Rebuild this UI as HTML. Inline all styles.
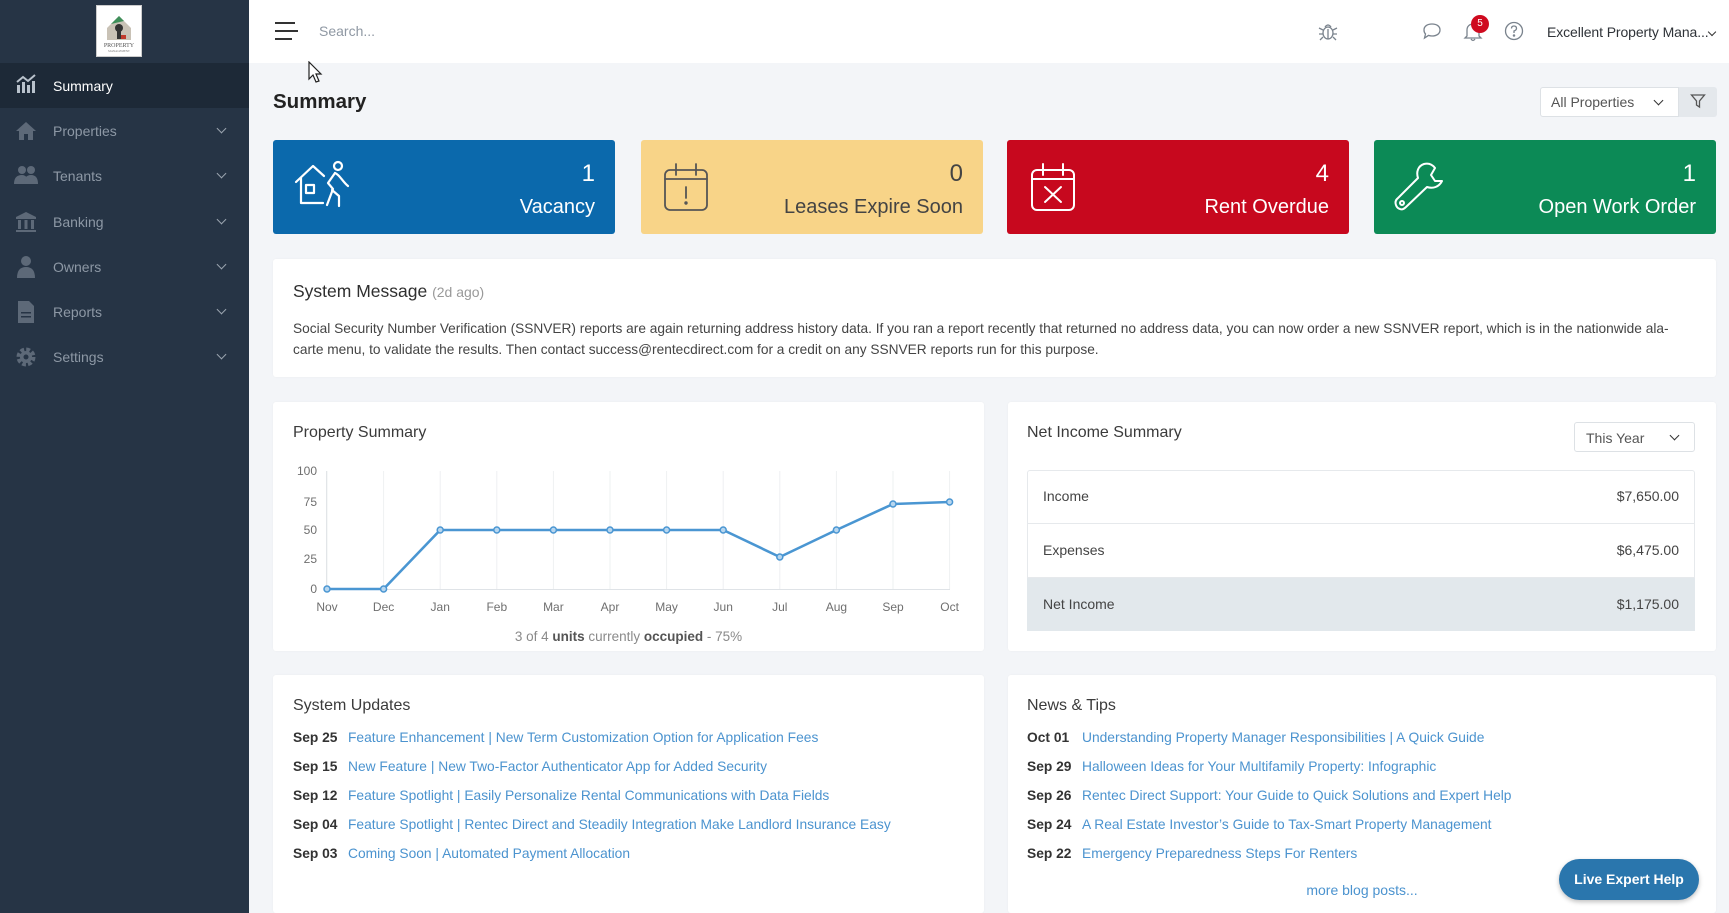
<!DOCTYPE html>
<html style="width:1729px;height:913px;overflow:hidden"><head><meta charset="utf-8"><style>
*{margin:0;padding:0;box-sizing:border-box}
body{width:1729px;height:913px;overflow:hidden;background:#f3f5f8;font-family:"Liberation Sans",Arial,sans-serif;position:relative;color:#333}
.a{position:absolute}
.side{left:0;top:0;width:249px;height:913px;background:#263445}
.logo{left:96px;top:5px;width:46px;height:52px;background:#fff;border:1px solid #ccc}
.act{left:0;top:63px;width:249px;height:45px;background:#1d2937}
.mi{left:53px;font-size:14px;color:#8d98a5;line-height:18px}
.chev{left:218px;width:7px;height:7px;border-right:1.6px solid #9aa4af;border-bottom:1.6px solid #9aa4af;transform:rotate(45deg)}
.top{left:249px;top:0;width:1480px;height:63px;background:#fff}
.card{border-radius:3px;color:#fff}
.num{right:20px;font-size:24px;line-height:28px}
.lbl{right:20px;font-size:20px;line-height:24px;white-space:nowrap}
.panel{background:#fff;border-radius:3px;box-shadow:0 0 2px rgba(0,0,0,.04)}
.ttl{font-size:16px;color:#3b3b3b;line-height:20px}
.row{font-size:13.8px;line-height:18px;white-space:nowrap}
.row b{color:#333;display:inline-block;width:55px}
.row span{color:#4b93cf}
.nr{left:1027px;width:668px;height:54px;border-top:1px solid #e6e9ec;font-size:14px;color:#444}
.nr .l{position:absolute;left:16px;top:18px}
.nr .r{position:absolute;right:16px;top:18px}
</style></head><body>

<!-- sidebar -->
<div class="a side"></div>
<div class="a logo">
<svg width="44" height="50" viewBox="0 0 44 50"><path d="M10 22 L22 10 L34 22 V34 H10Z" fill="#c9c2b6"/><path d="M14 18 L22 10 L27 15" fill="#3f8f5a"/><circle cx="22" cy="22" r="4" fill="#333"/><rect x="20" y="25" width="4" height="8" fill="#333"/><rect x="24" y="29" width="5" height="4" fill="#c0392b"/><text x="22" y="41" font-size="6" text-anchor="middle" fill="#555" font-family="Liberation Serif">PROPERTY</text><text x="22" y="46" font-size="3" text-anchor="middle" fill="#777" font-family="Liberation Serif">MANAGEMENT</text></svg>
</div>
<div class="a act"></div>
<svg class="a" style="left:14px;top:72px" width="24" height="24" viewBox="0 0 24 24"><g fill="#b9c2cc"><rect x="3" y="13" width="3" height="8"/><rect x="8" y="10" width="3" height="11"/><rect x="13" y="13" width="3" height="8"/><rect x="18" y="9" width="3" height="12"/></g><path d="M3 10 L9 5 L14 9 L21 3" stroke="#b9c2cc" stroke-width="2" fill="none"/></svg>
<div class="a mi" style="top:77px;color:#fff">Summary</div>

<svg class="a" style="left:14px;top:119px" width="24" height="24" viewBox="0 0 24 24"><path d="M2 12 L12 3 L22 12 H19 V21 H14 V15 H10 V21 H5 V12Z" fill="#5d6978"/></svg>
<div class="a mi" style="top:122px">Properties</div><div class="a chev" style="top:125px"></div>

<svg class="a" style="left:13px;top:164px" width="26" height="24" viewBox="0 0 26 24"><g fill="#5d6978"><circle cx="9" cy="6" r="4"/><circle cx="18" cy="6" r="4"/><path d="M1 20 Q1 11 9 11 Q15 11 15 20Z"/><path d="M11 20 Q11 11 18 11 Q25 11 25 20Z"/></g></svg>
<div class="a mi" style="top:167px">Tenants</div><div class="a chev" style="top:170px"></div>

<svg class="a" style="left:14px;top:210px" width="24" height="24" viewBox="0 0 24 24"><g fill="#5d6978"><path d="M2 7 L12 2 L22 7 V9 H2Z"/><rect x="4" y="10" width="3" height="9"/><rect x="10.5" y="10" width="3" height="9"/><rect x="17" y="10" width="3" height="9"/><rect x="2" y="20" width="20" height="2"/></g></svg>
<div class="a mi" style="top:213px">Banking</div><div class="a chev" style="top:216px"></div>

<svg class="a" style="left:14px;top:255px" width="24" height="24" viewBox="0 0 24 24"><g fill="#5d6978"><circle cx="12" cy="6" r="5"/><path d="M3 23 Q3 12 12 12 Q21 12 21 23Z"/></g></svg>
<div class="a mi" style="top:258px">Owners</div><div class="a chev" style="top:261px"></div>

<svg class="a" style="left:15px;top:300px" width="22" height="24" viewBox="0 0 22 24"><path d="M3 1 H14 L19 6 V23 H3Z" fill="#5d6978"/><g fill="#263445"><rect x="6" y="12" width="10" height="1.5"/><rect x="6" y="16" width="10" height="1.5"/></g></svg>
<div class="a mi" style="top:303px">Reports</div><div class="a chev" style="top:306px"></div>

<svg class="a" style="left:14px;top:345px" width="24" height="24" viewBox="0 0 24 24"><circle cx="12" cy="12" r="7" fill="none" stroke="#5d6978" stroke-width="5" stroke-dasharray="3.5 2"/><circle cx="12" cy="12" r="6" fill="#5d6978"/><circle cx="12" cy="12" r="2.5" fill="#263445"/></svg>
<div class="a mi" style="top:348px">Settings</div><div class="a chev" style="top:351px"></div>

<!-- top bar -->
<div class="a top"></div>
<div class="a" style="left:275px;top:22px;width:20px;height:2.4px;background:#333"></div>
<div class="a" style="left:275px;top:30px;width:23px;height:2.4px;background:#333"></div>
<div class="a" style="left:275px;top:38px;width:17px;height:2.4px;background:#333"></div>
<div class="a" style="left:319px;top:23px;font-size:14px;color:#8f98a3">Search...</div>
<svg class="a" style="left:308px;top:61px" width="16" height="24" viewBox="0 0 16 24"><path d="M1 1 V18 L5 14 L8 21 L11 20 L8 13 L13 13Z" fill="#fff" stroke="#222" stroke-width="1.2"/></svg>
<svg class="a" style="left:1318px;top:21px" width="20" height="20" viewBox="0 0 20 20" fill="none" stroke="#7a838d" stroke-width="1.3"><ellipse cx="10" cy="12" rx="5" ry="6"/><path d="M7 6 Q10 2 13 6"/><path d="M5 9 L1 7 M5 13 H1 M5 16 L2 19 M15 9 L19 7 M15 13 H19 M15 16 L18 19 M10 8 V18"/></svg>
<svg class="a" style="left:1422px;top:22px" width="20" height="18" viewBox="0 0 20 18" fill="none" stroke="#7a838d" stroke-width="1.3"><path d="M10 2 C15 2 18 4.5 18 8 C18 11.5 15 14 10 14 C8.5 14 7.5 13.8 6.5 13.4 L2.5 16 L3.5 12 C2.5 11 2 9.5 2 8 C2 4.5 5 2 10 2Z"/></svg>
<svg class="a" style="left:1463px;top:21px" width="20" height="21" viewBox="0 0 20 21" fill="none" stroke="#7a838d" stroke-width="1.3"><path d="M4 15 V9 C4 5.5 6.5 3 10 3 C13.5 3 16 5.5 16 9 V15 L18 17 H2Z"/><path d="M8 18 Q10 21 12 18"/></svg>
<div class="a" style="left:1471px;top:15px;width:18px;height:18px;border-radius:50%;background:#cf0a1f;color:#fff;font-size:10px;line-height:18px;text-align:center">5</div>
<svg class="a" style="left:1504px;top:21px" width="20" height="20" viewBox="0 0 20 20" fill="none" stroke="#7a838d" stroke-width="1.3"><circle cx="10" cy="10" r="8.5"/><path d="M7.5 7.5 Q7.5 5 10 5 Q12.5 5 12.5 7.5 Q12.5 9 10 10 V12"/><circle cx="10" cy="14.5" r=".6" fill="#7a838d"/></svg>
<div class="a" style="left:1547px;top:24px;font-size:14px;color:#2f3338;white-space:nowrap;letter-spacing:-0.1px">Excellent Property Mana...</div>
<div class="a" style="left:1709px;top:29px;width:6px;height:6px;border-right:1.6px solid #333;border-bottom:1.6px solid #333;transform:rotate(45deg)"></div>

<!-- title & filter -->
<div class="a" style="left:273px;top:90px;font-size:20.5px;font-weight:bold;color:#222">Summary</div>
<div class="a" style="left:1540px;top:87px;width:139px;height:30px;background:#fff;border:1px solid #dde1e5;border-radius:3px 0 0 3px"></div>
<div class="a" style="left:1551px;top:94px;font-size:14px;color:#555">All Properties</div>
<div class="a" style="left:1655px;top:97px;width:7px;height:7px;border-right:1.7px solid #333;border-bottom:1.7px solid #333;transform:rotate(45deg)"></div>
<div class="a" style="left:1679px;top:87px;width:38px;height:30px;background:#e4e8ec;border-radius:0 3px 3px 0"></div>
<svg class="a" style="left:1690px;top:93px" width="16" height="16" viewBox="0 0 16 16"><path d="M1.5 2 H14.5 L9.5 8 V14 L6.5 12 V8Z" fill="none" stroke="#555" stroke-width="1.3"/></svg>

<!-- cards -->
<div class="a card" style="left:273px;top:140px;width:342px;height:94px;background:#0b69ac">
<svg class="a" style="left:20px;top:18px" width="64" height="56" viewBox="0 0 64 56" fill="none" stroke="#fff" stroke-width="2.2" stroke-linecap="round" stroke-linejoin="round"><path d="M3 24 L20 8 L31 18"/><path d="M8 20 V45 H30"/><rect x="13" y="27" width="8" height="8"/><circle cx="45" cy="8" r="4"/><path d="M42 15 L35 25 L40 31 L34 47"/><path d="M42 15 C47 17 49 23 55 28"/><path d="M39 32 L46 38 L46 48"/></svg>
<div class="a num" style="top:20px">1</div><div class="a lbl" style="top:55px">Vacancy</div></div>

<div class="a card" style="left:641px;top:140px;width:342px;height:94px;background:#f8d488;color:#444">
<svg class="a" style="left:22px;top:22px" width="46" height="50" viewBox="0 0 46 50" fill="none" stroke="#555" stroke-width="1.8" stroke-linecap="round"><rect x="2" y="8" width="42" height="40" rx="5"/><path d="M2 17 H44 M13 2 V13 M33 2 V13 M23 25 V36"/><circle cx="23" cy="41" r=".8" fill="#555"/></svg>
<div class="a num" style="top:20px">0</div><div class="a lbl" style="top:55px">Leases Expire Soon</div></div>

<div class="a card" style="left:1007px;top:140px;width:342px;height:94px;background:#c7081e">
<svg class="a" style="left:23px;top:22px" width="46" height="50" viewBox="0 0 46 50" fill="none" stroke="#fff" stroke-width="2" stroke-linecap="round"><rect x="2" y="8" width="42" height="40" rx="5"/><path d="M2 17 H44 M13 2 V13 M33 2 V13 M15 25 L31 40 M31 25 L15 40"/></svg>
<div class="a num" style="top:20px">4</div><div class="a lbl" style="top:55px">Rent Overdue</div></div>

<div class="a card" style="left:1374px;top:140px;width:342px;height:94px;background:#0c8a56">
<svg class="a" style="left:18px;top:20px" width="54" height="54" viewBox="0 0 54 54" fill="none" stroke="#fff" stroke-width="2" stroke-linejoin="round"><path d="M32 4 C26 6 24 12 26 18 L5 39 C2 42 4 48 8 49 C10 50 12 49 14 47 L35 27 C41 29 47 27 50 21 L43 21 L39 15 L43 8 C40 4 36 3 32 4Z"/><circle cx="10" cy="43" r="2"/></svg>
<div class="a num" style="top:20px">1</div><div class="a lbl" style="top:55px">Open Work Order</div></div>

<!-- system message -->
<div class="a panel" style="left:273px;top:259px;width:1443px;height:118px"></div>
<div class="a" style="left:293px;top:281px;font-size:17.5px;color:#2f2f2f">System Message <span style="font-size:14px;color:#999">(2d ago)</span></div>
<div class="a" style="left:293px;top:318px;font-size:13.7px;line-height:21px;color:#444;white-space:nowrap">Social Security Number Verification (SSNVER) reports are again returning address history data. If you ran a report recently that returned no address data, you can now order a new SSNVER report, which is in the nationwide ala-<br>carte menu, to validate the results. Then contact success@rentecdirect.com for a credit on any SSNVER reports run for this purpose.</div>

<!-- property summary -->
<div class="a panel" style="left:273px;top:402px;width:711px;height:249px"></div>
<div class="a ttl" style="left:293px;top:423px">Property Summary</div>
<svg class="a" style="left:0;top:0" width="1000" height="660" font-family="Liberation Sans, Arial, sans-serif">
<g stroke="#eef0f2" stroke-width="1">
<line x1="327" y1="471" x2="327" y2="589"/><line x1="383.6" y1="471" x2="383.6" y2="589"/><line x1="440.2" y1="471" x2="440.2" y2="589"/><line x1="496.8" y1="471" x2="496.8" y2="589"/><line x1="553.4" y1="471" x2="553.4" y2="589"/><line x1="610" y1="471" x2="610" y2="589"/><line x1="666.6" y1="471" x2="666.6" y2="589"/><line x1="723.2" y1="471" x2="723.2" y2="589"/><line x1="779.8" y1="471" x2="779.8" y2="589"/><line x1="836.4" y1="471" x2="836.4" y2="589"/><line x1="893" y1="471" x2="893" y2="589"/><line x1="949.6" y1="471" x2="949.6" y2="589"/>
</g>
<line x1="327" y1="589.5" x2="950" y2="589.5" stroke="#dfe3e7"/>
<line x1="326.5" y1="471" x2="326.5" y2="590" stroke="#e2e5e8"/>
<g font-size="12" fill="#6f6f6f" text-anchor="end">
<text x="317" y="475">100</text><text x="317" y="506">75</text><text x="317" y="534">50</text><text x="317" y="563">25</text><text x="317" y="593">0</text></g>
<g font-size="12" fill="#6f6f6f" text-anchor="middle">
<text x="327" y="611">Nov</text><text x="383.6" y="611">Dec</text><text x="440.2" y="611">Jan</text><text x="496.8" y="611">Feb</text><text x="553.4" y="611">Mar</text><text x="610" y="611">Apr</text><text x="666.6" y="611">May</text><text x="723.2" y="611">Jun</text><text x="779.8" y="611">Jul</text><text x="836.4" y="611">Aug</text><text x="893" y="611">Sep</text><text x="949.6" y="611">Oct</text></g>
<polyline points="327,589 383.6,589 440.2,530 496.8,530 553.4,530 610,530 666.6,530 723.2,530 779.8,557 836.4,530 893,504 949.6,502" fill="none" stroke="#4a96d2" stroke-width="2.6" stroke-linejoin="round"/>
<g fill="#b7d6ef" stroke="#4a96d2" stroke-width="1.5">
<circle cx="327" cy="589" r="3"/><circle cx="383.6" cy="589" r="3"/><circle cx="440.2" cy="530" r="3"/><circle cx="496.8" cy="530" r="3"/><circle cx="553.4" cy="530" r="3"/><circle cx="610" cy="530" r="3"/><circle cx="666.6" cy="530" r="3"/><circle cx="723.2" cy="530" r="3"/><circle cx="779.8" cy="557" r="3"/><circle cx="836.4" cy="530" r="3"/><circle cx="893" cy="504" r="3"/><circle cx="949.6" cy="502" r="3"/></g>
</svg>
<div class="a" style="left:273px;width:711px;top:629px;text-align:center;font-size:13.5px;color:#8a8a8a">3 of 4 <b style="color:#555">units</b> currently <b style="color:#555">occupied</b> - 75%</div>

<!-- net income -->
<div class="a panel" style="left:1008px;top:402px;width:708px;height:249px"></div>
<div class="a ttl" style="left:1027px;top:423px">Net Income Summary</div>
<div class="a" style="left:1574px;top:422px;width:121px;height:30px;border:1px solid #dde1e5;border-radius:3px;background:#fff"></div>
<div class="a" style="left:1586px;top:430px;font-size:14px;color:#555">This Year</div>
<div class="a" style="left:1671px;top:432px;width:7px;height:7px;border-right:1.7px solid #333;border-bottom:1.7px solid #333;transform:rotate(45deg)"></div>
<div class="a" style="left:1027px;top:470px;width:668px;height:161px;border:1px solid #e6e9ec;border-radius:3px"></div>
<div class="a nr" style="top:470px;border-top:none"><span class="l">Income</span><span class="r">$7,650.00</span></div>
<div class="a nr" style="top:523px"><span class="l">Expenses</span><span class="r">$6,475.00</span></div>
<div class="a nr" style="top:577px;background:#e2e8ec"><span class="l">Net Income</span><span class="r">$1,175.00</span></div>

<!-- system updates -->
<div class="a panel" style="left:273px;top:675px;width:711px;height:238px"></div>
<div class="a ttl" style="left:293px;top:696px">System Updates</div>
<div class="a row" style="left:293px;top:729px"><b>Sep 25</b><span>Feature Enhancement | New Term Customization Option for Application Fees</span></div>
<div class="a row" style="left:293px;top:758px"><b>Sep 15</b><span>New Feature | New Two-Factor Authenticator App for Added Security</span></div>
<div class="a row" style="left:293px;top:787px"><b>Sep 12</b><span>Feature Spotlight | Easily Personalize Rental Communications with Data Fields</span></div>
<div class="a row" style="left:293px;top:816px"><b>Sep 04</b><span>Feature Spotlight | Rentec Direct and Steadily Integration Make Landlord Insurance Easy</span></div>
<div class="a row" style="left:293px;top:845px"><b>Sep 03</b><span>Coming Soon | Automated Payment Allocation</span></div>

<!-- news -->
<div class="a panel" style="left:1008px;top:675px;width:708px;height:238px"></div>
<div class="a ttl" style="left:1027px;top:696px">News &amp; Tips</div>
<div class="a row" style="left:1027px;top:729px"><b>Oct 01</b><span>Understanding Property Manager Responsibilities | A Quick Guide</span></div>
<div class="a row" style="left:1027px;top:758px"><b>Sep 29</b><span>Halloween Ideas for Your Multifamily Property: Infographic</span></div>
<div class="a row" style="left:1027px;top:787px"><b>Sep 26</b><span>Rentec Direct Support: Your Guide to Quick Solutions and Expert Help</span></div>
<div class="a row" style="left:1027px;top:816px"><b>Sep 24</b><span>A Real Estate Investor’s Guide to Tax-Smart Property Management</span></div>
<div class="a row" style="left:1027px;top:845px"><b>Sep 22</b><span>Emergency Preparedness Steps For Renters</span></div>
<div class="a" style="left:1008px;width:708px;top:882px;text-align:center;font-size:14px;color:#4b93cf">more blog posts...</div>

<div class="a" style="left:1559px;top:859px;width:140px;height:41px;border-radius:21px;background:#2a76ad;color:#fff;font-weight:bold;font-size:14px;line-height:41px;text-align:center;box-shadow:0 2px 5px rgba(0,0,0,.25)">Live Expert Help</div>
</body></html>
